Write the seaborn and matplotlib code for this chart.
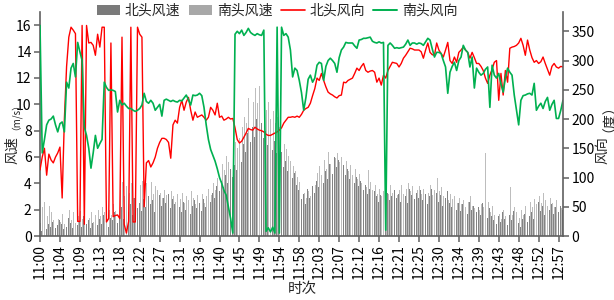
import numpy as np
import pandas as pd
import matplotlib
matplotlib.use("Agg")
import matplotlib.pyplot as plt
import seaborn as sns
from matplotlib.patches import Patch
from matplotlib.lines import Line2D

# 30 s samples, 11:00 -> 12:58, one tick label every 9 samples
tick_labels = ["11:00", "11:04", "11:09", "11:13", "11:18", "11:22", "11:27", "11:31", "11:36",
               "11:40", "11:45", "11:49", "11:54", "11:58", "12:03", "12:07", "12:12", "12:16",
               "12:21", "12:25", "12:30", "12:34", "12:39", "12:43", "12:48", "12:52", "12:57"]

# 北头风速 (m/s)
north_speed = [
    0.6, 0.4, 0.3, 0.5, 0.9, 0.7, 1.1, 0.6, 0.8,
    1.2, 0.9, 0.5, 0.7, 1.4, 1.0, 0.6, 1.3, 0.8,
    1.1, 0.7, 1.5, 0.9, 1.2, 0.6, 1.0, 1.4, 0.8,
    1.3, 0.9, 1.6, 1.1, 0.7, 1.4, 1.2, 1.8, 1.0,
    1.5, 2.2, 1.3, 2.6, 1.8, 2.4, 1.6, 2.9, 2.1,
    2.5, 1.9, 2.8, 2.2, 3.0, 2.4, 2.7, 1.8, 2.6,
    3.1, 2.3, 2.9, 2.5, 3.2, 2.1, 2.8, 2.4, 3.0,
    2.2, 1.8, 2.6, 2.0, 2.4, 1.7, 2.3, 2.7, 2.1,
    2.5, 1.9, 2.8, 2.2, 3.1, 2.6, 3.3, 2.9, 3.8,
    3.4, 4.2, 3.7, 4.6, 4.0, 5.1, 4.5, 5.4, 5.0,
    6.2, 5.6, 7.0, 6.4, 7.8, 7.1, 8.3, 7.5, 8.9,
    8.1, 8.6, 7.4, 8.0, 6.9, 7.6, 6.5, 7.2, 6.3,
    5.8, 6.4, 5.2, 5.7, 4.9, 5.3, 4.4, 4.8, 3.9,
    3.5, 2.8, 3.2, 2.4, 3.6, 2.9, 3.8, 3.3, 4.2,
    3.7, 4.5, 4.0, 4.9, 4.3, 5.5, 4.7, 6.0, 5.2,
    5.8, 5.0, 5.4, 4.6, 5.1, 4.3, 4.8, 4.0, 4.5,
    3.8, 4.2, 3.5, 3.9, 3.2, 3.6, 2.9, 3.4, 3.0,
    2.6, 3.1, 2.4, 2.8, 3.3, 2.7, 3.0, 3.5, 2.9,
    3.2, 2.6, 3.4, 3.0, 2.5, 3.6, 3.1, 2.8, 3.3,
    2.9, 3.5, 2.7, 3.2, 2.4, 3.0, 3.6, 2.8, 3.3,
    2.6, 3.1, 2.3, 2.9, 3.4, 2.5, 2.2, 2.8, 2.0,
    2.5, 1.9, 2.4, 2.1, 1.7, 2.6, 2.0, 2.3, 1.8,
    2.2, 1.6, 2.5, 1.9, 1.4, 2.1, 1.5, 1.2, 0.9,
    1.5, 1.1, 1.8, 1.3, 0.8, 1.6, 1.2, 1.9, 1.4,
    1.0, 0.7, 1.3, 1.7, 1.1, 1.5, 1.8, 1.3, 2.1,
    2.6, 1.9, 2.3, 1.6, 2.8, 2.0, 2.4, 1.7, 2.2,
    1.8, 2.3, 2.0,
]

# 南头风速 (m/s)
south_speed = [
    1.0, 2.2, 2.6, 1.5, 2.3, 1.8, 1.2, 1.6, 1.3,
    1.1, 1.7, 0.9, 1.4, 2.0, 1.2, 1.8, 1.0, 1.5,
    1.9, 1.3, 1.7, 2.1, 1.4, 1.8, 1.1, 1.6, 2.0,
    1.5, 2.2, 1.8, 1.3, 2.0, 1.6, 2.4, 1.9, 2.8,
    3.5, 4.1, 3.0, 3.8, 3.3, 4.0, 2.9, 3.6, 4.3,
    3.9, 4.2, 3.4, 4.0, 3.6, 4.1, 3.2, 3.8, 3.5,
    3.3, 2.9, 3.5, 3.1, 2.7, 3.4, 3.0, 2.6, 3.2,
    2.8, 3.3, 2.5, 3.0, 2.7, 3.4, 2.9, 2.4, 3.1,
    2.7, 3.2, 2.5, 3.0, 3.6, 3.1, 4.0, 3.5, 4.4,
    4.8, 5.5, 5.0, 6.1, 5.6, 6.6, 6.0, 7.1, 6.7,
    7.4, 8.3, 9.0, 8.6, 10.5, 11.7, 10.2, 11.2, 10.1,
    11.4, 10.4, 11.0, 9.6, 10.2, 8.9, 9.5, 8.6, 9.0,
    8.3, 7.5, 7.0, 6.6, 6.1, 5.7, 5.3, 4.9, 4.5,
    4.1, 3.6, 3.3, 2.9, 3.4, 3.0, 4.4, 3.9, 4.8,
    5.3, 4.6, 5.8, 5.1, 6.4, 5.5, 6.7, 5.9, 6.3,
    5.6, 6.0, 5.2, 5.7, 4.9, 5.4, 4.6, 5.1, 4.3,
    4.7, 4.0, 4.4, 3.7, 5.0, 4.1, 3.5, 3.9, 3.2,
    3.6, 3.0, 3.4, 2.8, 3.2, 3.9, 3.3, 3.7, 3.1,
    3.5, 3.9, 3.2, 3.6, 4.0, 3.4, 3.8, 3.0, 3.5,
    3.8, 3.2, 3.6, 4.1, 3.3, 3.9, 3.1, 3.5, 4.4,
    3.4, 3.7, 3.0, 3.3, 2.7, 3.2, 2.8, 3.0, 2.5,
    2.9, 2.4, 2.7, 2.2, 2.6, 3.0, 2.3, 2.1, 2.5,
    2.0, 2.4, 2.2, 6.3, 2.6, 1.8, 2.3, 1.6, 2.1,
    1.7, 1.3, 2.0, 1.5, 2.4, 3.7, 1.6, 2.2, 1.8,
    1.4, 2.0, 1.6, 2.3, 1.9, 2.6, 2.2, 2.8, 2.4,
    3.0, 2.5, 3.3, 2.7, 2.3, 2.9, 2.5, 2.2, 2.7,
    2.4, 2.1, 3.2,
]

# 北头风向 (度)
north_dir = [
    113, 135, 150, 104, 140, 130, 125, 135, 142,
    152, 65, 200, 290, 340, 357, 352, 346, 25,
    25, 360, 20, 360, 330, 331, 326, 309, 345,
    323, 357, 357, 24, 30, 330, 33, 35, 36,
    30, 340, 20, 5, 25, 357, 24, 24, 357,
    345, 340, 50, 125, 129, 118, 125, 135, 150,
    160, 167, 167, 165, 160, 133, 190, 198, 193,
    220, 232, 215, 229, 237, 215, 198, 212, 203,
    205, 207, 203, 198, 203, 220, 215, 207, 227,
    203, 205, 198, 200, 203, 200, 201, 185, 165,
    159, 162, 169, 176, 184, 182, 181, 186, 183,
    181, 180, 178, 174, 172, 172, 174, 176, 178,
    181, 185, 193, 198, 203, 203, 204, 203, 205,
    203, 208, 215, 218, 220, 227, 240, 252, 270,
    266, 278, 266, 255, 246, 243, 241, 238, 236,
    240, 241, 263, 262, 266, 268, 270, 278, 287,
    283, 290, 295, 283, 280, 282, 283, 280, 263,
    270, 258, 275, 270, 283, 290, 297, 296, 295,
    289, 295, 304, 309, 315, 321, 320, 318, 318,
    318, 315, 304, 318, 330, 314, 310, 309, 330,
    318, 312, 306, 318, 331, 300, 295, 306, 297,
    314, 318, 323, 318, 314, 304, 314, 305, 295,
    295, 290, 283, 270, 261, 275, 285, 297, 300,
    232, 278, 241, 283, 263, 321, 323, 324, 326,
    330, 338, 326, 309, 335, 318, 305, 297, 300,
    295, 298, 306, 295, 285, 275, 290, 295, 289,
    287, 290, 289,
]

# 南头风向 (度)
south_dir = [
    360, 142, 165, 190, 198, 200, 205, 190, 178,
    192, 195, 178, 263, 253, 287, 295, 272, 331,
    315, 300, 186, 172, 150, 116, 142, 172, 150,
    158, 165, 263, 254, 249, 250, 249, 247, 212,
    232, 224, 227, 222, 218, 218, 215, 213, 215,
    218, 224, 244, 230, 227, 232, 227, 215, 220,
    225, 205, 232, 234, 232, 230, 232, 230, 229,
    232, 231, 236, 241, 233, 224, 241, 240, 241,
    244, 240, 220, 190, 165, 148, 138, 128, 115,
    100, 90, 78, 70, 50, 30, 5, 345, 350,
    346, 352, 343, 348, 355, 348, 345, 343, 346,
    344, 343, 352, 8, 14, 7, 15, 5, 357,
    5, 357, 343, 346, 340, 318, 272, 287, 283,
    266, 245, 215, 237, 268, 275, 263, 270, 292,
    297, 295, 266, 290, 300, 304, 300, 295, 280,
    305, 318, 323, 331, 330, 330, 330, 325, 321,
    335, 336, 338, 338, 339, 340, 333, 331, 330,
    332, 330, 331, 10, 326, 330, 326, 321, 322,
    321, 322, 323, 328, 335, 326, 330, 330, 328,
    330, 329, 326, 332, 338, 335, 320, 306, 314,
    314, 312, 300, 289, 244, 280, 290, 297, 283,
    300, 306, 326, 318, 314, 289, 306, 253, 287,
    280, 275, 278, 285, 289, 220, 292, 275, 270,
    278, 260, 246, 270, 287, 280, 275, 241, 215,
    190, 232, 240, 241, 243, 244, 241, 261, 215,
    222, 227, 218, 230, 237, 215, 225, 232, 201,
    201, 215, 232,
]

n = len(north_speed)
assert len(south_speed) == n and len(north_dir) == n and len(south_dir) == n, (
    len(north_speed), len(south_speed), len(north_dir), len(south_dir))
idx = np.arange(n)

sns.set_theme(style="ticks")
plt.rcParams["font.family"] = ["Noto Sans CJK SC", "DejaVu Sans"]
plt.rcParams["axes.unicode_minus"] = False

W, H = 614, 300
fig = plt.figure(figsize=(W / 100, H / 100), dpi=100)
ax = fig.add_axes([40 / W, 1 - 236 / H, (563 - 40) / W, (236 - 12) / H])

df = pd.DataFrame({
    "idx": np.concatenate([idx, idx]),
    "speed": north_speed + south_speed,
    "series": ["北头风速"] * n + ["南头风速"] * n,
})
dark, light = "#838383", "#bdbdbd"
sns.barplot(data=df, x="idx", y="speed", hue="series", palette=[dark, light],
            width=0.8, errorbar=None, legend=False, saturation=1, linewidth=0, ax=ax)

ax2 = ax.twinx()
red, green = "#ff0000", "#00b050"
sns.lineplot(x=idx, y=north_dir, color=red, linewidth=1.0, ax=ax2)
sns.lineplot(x=idx, y=south_dir, color=green, linewidth=1.2, ax=ax2)

ax.set_xlim(0, n - 1)
ax.set_ylim(0, 17)
ax2.set_ylim(0, 383)
ax.set_xticks(idx[::9])
ax.set_xticklabels(tick_labels, rotation=90)
ax.set_yticks(range(0, 17, 2))
ax2.set_yticks(range(0, 351, 50))
ax.set_xlabel("")
ax.set_ylabel("")
ax2.set_ylabel("")

spine_c = "#606060"
for a in (ax, ax2):
    a.spines["top"].set_visible(False)
    for s in a.spines.values():
        s.set_color(spine_c)
        s.set_linewidth(1.2)
ax.spines["right"].set_visible(False)
ax2.spines["left"].set_visible(False)
ax2.spines["bottom"].set_visible(False)
ax.tick_params(axis="both", direction="out", length=4, width=1.1, color=spine_c,
               labelsize=10, labelcolor="black", pad=2)
ax2.tick_params(axis="y", direction="out", length=4, width=1.1, color=spine_c,
                labelsize=10, labelcolor="black", pad=2)

# axis titles: larger CJK word, smaller bracketed unit above it
fig.text(12 / W, 1 - 150 / H, "风速", rotation=90, ha="center", va="center", fontsize=10)
fig.text(11 / W, 1 - 112 / H, "（m/s）", rotation=90, ha="center", va="center", fontsize=7)
fig.text(602 / W, 1 - 150 / H, "风向", rotation=90, ha="center", va="center", fontsize=10)
fig.text(602 / W, 1 - 111 / H, "（度）", rotation=90, ha="center", va="center", fontsize=10)
fig.text(302 / W, 1 - 289 / H, "时次", ha="center", va="center", fontsize=10.5)

handles = [Patch(facecolor="#7a7a7a", edgecolor="none"),
           Patch(facecolor="#a8a8a8", edgecolor="none"),
           Line2D([], [], color=red, linewidth=1.2),
           Line2D([], [], color=green, linewidth=1.4)]
labels = ["北头风速", "南头风速", "北头风向", "南头风向"]
fig.legend(handles, labels, loc="center", bbox_to_anchor=(277 / W, 1 - 11 / H), ncol=4,
           frameon=False, fontsize=10, handlelength=1.7, handletextpad=0.35,
           columnspacing=0.6, borderpad=0, borderaxespad=0)

fig.savefig("out.png", dpi=100)
